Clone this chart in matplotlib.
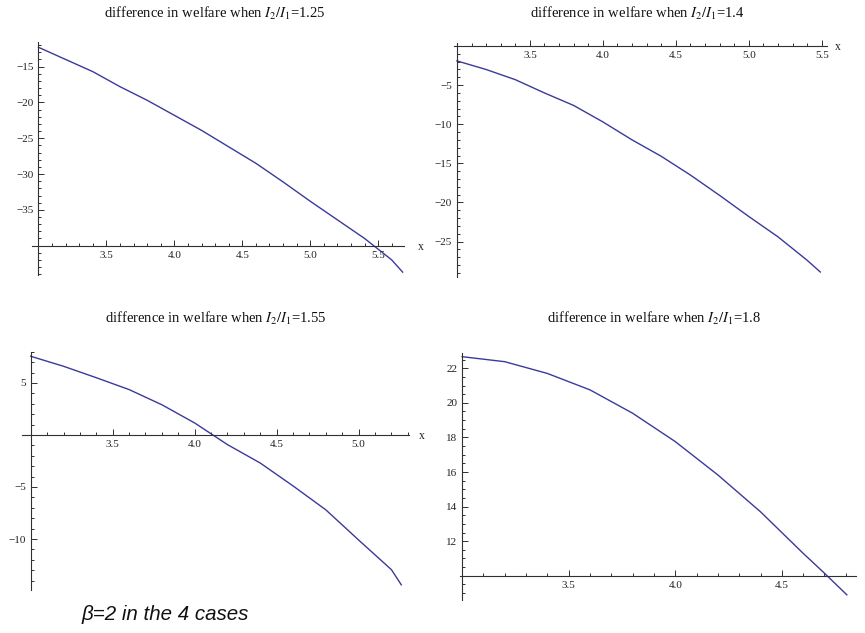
import matplotlib
matplotlib.use('Agg')
import matplotlib.pyplot as plt
from matplotlib.ticker import FixedLocator, MultipleLocator

plt.rcParams['font.family'] = ['Liberation Serif', 'DejaVu Serif']
plt.rcParams['mathtext.fontset'] = 'stix'

# ---- data ----
ratios = ['1.25', '1.4', '1.55', '1.8']

x1 = [3.0, 3.2, 3.4, 3.6, 3.8, 4.0, 4.2, 4.4, 4.6, 4.8, 5.0, 5.2, 5.4, 5.6, 5.68]
y1 = [-12.3, -14.0, -15.7, -17.8, -19.7, -21.8, -23.9, -26.2, -28.5, -31.1, -33.8, -36.4, -39.0, -42.0, -43.7]

x2 = [3.0, 3.2, 3.4, 3.6, 3.8, 4.0, 4.2, 4.4, 4.6, 4.8, 5.0, 5.2, 5.4, 5.49]
y2 = [-1.9, -3.0, -4.3, -6.0, -7.6, -9.7, -12.0, -14.1, -16.5, -19.1, -21.8, -24.4, -27.4, -28.9]

x3 = [3.0, 3.2, 3.4, 3.6, 3.8, 4.0, 4.2, 4.4, 4.6, 4.8, 5.0, 5.2, 5.26]
y3 = [7.56, 6.6, 5.5, 4.36, 2.9, 1.15, -0.93, -2.7, -4.9, -7.2, -10.1, -12.95, -14.4]

x4 = [3.0, 3.2, 3.4, 3.6, 3.8, 4.0, 4.2, 4.4, 4.6, 4.7, 4.805]
y4 = [22.67, 22.38, 21.7, 20.75, 19.4, 17.76, 15.83, 13.7, 11.3, 10.15, 8.9]

xticks1 = [3.5, 4.0, 4.5, 5.0, 5.5]
yticks1 = [-15, -20, -25, -30, -35]
xticks2 = [3.5, 4.0, 4.5, 5.0, 5.5]
yticks2 = [-5, -10, -15, -20, -25]
xticks3 = [3.5, 4.0, 4.5, 5.0]
yticks3 = [5, -5, -10]
xticks4 = [3.5, 4.0, 4.5]
yticks4 = [12, 14, 16, 18, 20, 22]

note = 'β=2 in the 4 cases'

# ---- drawing ----
W, H = 865, 633
fig = plt.figure(figsize=(W / 100, H / 100), dpi=100)

line_color = '#3a3a9c'
axis_color = '#303030'

panels = [
    (x1, y1, xticks1, yticks1, (31.7, 42.3, 404, 275), (2.95, 5.69), (-44.1, -11.6), -40, 1, 12, (215, 13)),
    (x2, y2, xticks2, yticks2, (454, 43.3, 827, 276.7), (2.98, 5.536), (-29.5, 0.35), 0, 1, 8, (637, 13)),
    (x3, y3, xticks3, yticks3, (21.7, 351.7, 409, 590), (2.945, 5.307), (-14.9, 8.0), 0, 1, 9, (216, 318)),
    (x4, y4, xticks4, yticks4, (460, 352.7, 856, 600), (2.99, 4.848), (8.6, 22.9), 10, 0.5, None, (654, 318)),
]

for (xs, ys, xt, yt, (l, t, r, b), xl, yl, y0, ymin, xoff, (tx, ty)), ratio in zip(panels, ratios):
    ax = fig.add_axes([l / W, 1 - b / H, (r - l) / W, (b - t) / H])
    ax.plot(xs, ys, color=line_color, lw=1.0, clip_on=False)
    ax.set_xlim(*xl)
    ax.set_ylim(*yl)
    ax.patch.set_alpha(0)
    for s in ('top', 'right'):
        ax.spines[s].set_visible(False)
    ax.spines['left'].set_position(('data', 3.0))
    ax.spines['bottom'].set_position(('data', y0))
    for s in ('left', 'bottom'):
        ax.spines[s].set_color(axis_color)
        ax.spines[s].set_linewidth(0.8)
    ax.xaxis.set_major_locator(FixedLocator(xt))
    ax.xaxis.set_minor_locator(MultipleLocator(0.1))
    ax.yaxis.set_major_locator(FixedLocator(yt))
    ax.yaxis.set_minor_locator(MultipleLocator(ymin))
    ax.set_xticklabels([f'{v:.1f}' for v in xt])
    ax.set_yticklabels([f'{v:g}'.replace('-', '\u2212') for v in yt])
    ax.tick_params(which='both', direction='in', color=axis_color, width=0.7,
                   labelsize=8, labelcolor='#222222', pad=3.5)
    ax.tick_params(which='major', length=4.5)
    ax.tick_params(which='minor', length=2.2)
    if xoff is not None:
        ax.annotate('x', xy=(1, y0), xycoords=('axes fraction', 'data'),
                    xytext=(xoff, -1), textcoords='offset points',
                    ha='center', va='center', fontsize=8.5, color='#222222')
    fig.text(tx / W, 1 - ty / H,
             f'difference in welfare when $I_2/I_1$={ratio}',
             ha='center', va='center', fontsize=10.5, color='#111111')

fig.text(81.7 / W, 1 - 615 / H, note, family=['Liberation Sans', 'DejaVu Sans'],
         style='italic', fontsize=14.8, ha='left', va='center', color='#111111')

fig.savefig('out.png', dpi=100)
